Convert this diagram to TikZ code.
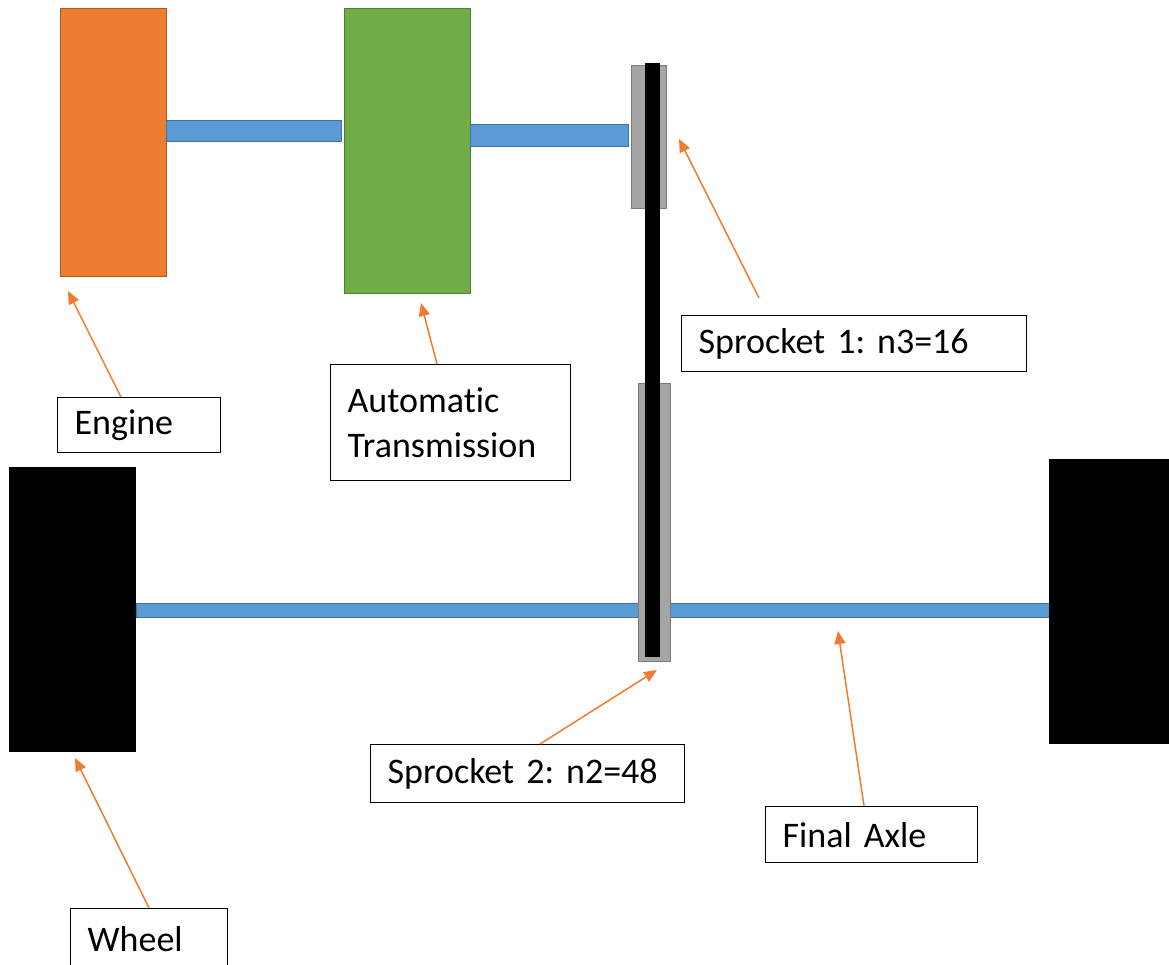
\documentclass[tikz,border=0pt]{standalone}
\usepackage{fontspec}
\setmainfont{Carlito}[Ligatures=NoCommon]
\usetikzlibrary{arrows.meta}
\definecolor{engorange}{HTML}{ED7D31}
\definecolor{engline}{HTML}{AE5A21}
\definecolor{trgreen}{HTML}{70AD47}
\definecolor{trline}{HTML}{507E32}
\definecolor{shblue}{HTML}{5B9BD5}
\definecolor{shline}{HTML}{41719C}
\definecolor{spgray}{HTML}{A5A5A5}
\definecolor{spline}{HTML}{7B7B7B}
\frenchspacing

\begin{document}
\begin{tikzpicture}[x=1pt,y=-1pt,
    lbl/.style={draw, line width=1.3pt, anchor=north west, align=left,
      inner xsep=17pt, inner ysep=0pt, font=\fontsize{36}{45}\selectfont},
    ptr/.style={draw=engorange, line width=1.5pt, -{Triangle[length=13pt,width=11pt]}},
    part/.style={line width=1pt}]
        \useasboundingbox (0,0) rectangle (1169,965);

        % parts
        \draw[part, fill=engorange, draw=engline] (60,9) rectangle (166,277);
        \draw[part, fill=shblue, draw=shline] (166,121) rectangle (341,142);
        \draw[part, fill=trgreen, draw=trline] (344,9) rectangle (470,294);
        \draw[part, fill=shblue, draw=shline] (470,125) rectangle (628,147);
        \draw[part, fill=shblue, draw=shline] (136,603) rectangle (1050,617);
        \draw[part, fill=spgray, draw=spline] (631,66) rectangle (666,209);
        \draw[part, fill=spgray, draw=spline] (638,383) rectangle (670,661);
        \fill[black] (645,63) rectangle (660,657);
        \fill[black] (9,467) rectangle (136,752);
        \fill[black] (1049,459) rectangle (1175,744);

        % labelleds
        \node[lbl, text width=129pt, minimum height=55pt] (englbl) at (57,397) {Engine};
        \node[lbl, text width=206pt, minimum height=116pt] (trlbl) at (330,364) {Automatic\\Transmission};
        \node[lbl, text width=311pt, minimum height=56pt] (spalbl) at (681,315) {Sprocket 1: n3=16};
        \node[lbl, text width=280pt, minimum height=58pt] (spblbl) at (370,744) {Sprocket 2: n2=48};
        \node[lbl, text width=178pt, minimum height=56pt] (axlbl) at (765,806) {Final Axle};
        \node[lbl, text width=123pt, minimum height=60pt] (whlbl) at (70,908) {Wheel};

        %% pointers
        \coordinate (engtip) at (68,291);
        \coordinate (trtip) at (421,303);
        \coordinate (spatip) at (679,139);
        \coordinate (spbtip) at (657,670);
        \coordinate (axtip) at (838,631);
        \coordinate (whtip) at (75,758);
        \draw[ptr] ([xshift=64pt]englbl.north west) -- (engtip);
        \draw[ptr] ([xshift=107pt]trlbl.north west) -- (trtip);
        \draw[ptr] ([xshift=78pt,yshift=17pt]spalbl.north west) -- (spatip);
        \draw[ptr] ([xshift=170pt]spblbl.north west) -- (spbtip);
        \draw[ptr] ([xshift=99pt]axlbl.north west) -- (axtip);
        \draw[ptr] ([xshift=79pt]whlbl.north west) -- (whtip);
\end{tikzpicture}
\end{document}
